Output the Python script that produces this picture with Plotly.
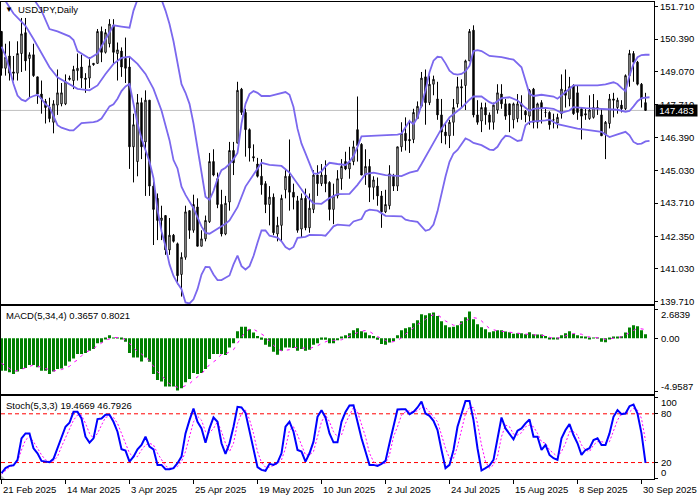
"""USDJPY daily chart with Bollinger bands, MACD and Stochastic panels."""
import plotly.graph_objects as go
from plotly.subplots import make_subplots

FONT = "Liberation Sans, sans-serif"
FONT_SIZE = 9.5

OPEN = [
    150.7, 149.2, 149.7, 149.05, 149.0, 149.8, 150.65, 149.6, 149.75, 148.85,
    148.15, 147.85, 147.6, 147.0, 147.7, 147.75, 147.75, 148.8, 148.7, 149.1,
    149.25, 148.8, 148.8, 149.4, 149.4, 150.7, 149.85, 150.2, 150.95, 149.8,
    149.9, 149.6, 149.25, 146.0, 145.4, 147.8, 146.2, 147.9, 144.4, 143.9,
    143.0, 143.2, 141.8, 142.4, 142.05, 140.8, 141.5, 143.4, 142.6, 143.55,
    141.95, 142.25, 142.95, 145.4, 144.7, 143.65, 142.45, 143.75, 145.85, 146.15,
    148.35, 147.4, 146.7, 145.6, 145.3, 144.8, 144.5, 143.65, 143.95, 142.45,
    142.8, 144.25, 144.8, 144.15, 143.8, 142.65, 143.9, 142.7, 143.45, 144.85,
    144.5, 144.85, 144.55, 143.45, 144.0, 144.7, 145.4, 145.1, 145.4, 146.7,
    146.1, 144.85, 145.2, 144.35, 144.4, 144.0, 143.35, 143.6, 144.8, 144.4,
    146.0, 146.55, 146.3, 146.3, 147.15, 147.65, 148.85, 147.8, 148.55, 147.95,
    147.3, 146.6, 146.45, 147.0, 147.75, 148.45, 148.5, 149.5, 150.75, 147.3,
    147.05, 147.6, 147.3, 147.0, 147.5, 148.15, 147.75, 147.75, 147.1, 147.15,
    147.75, 147.45, 147.25, 148.35, 147.0, 147.8, 147.4, 147.4, 147.1, 146.97,
    147.35, 148.3, 147.95, 148.5, 148.2, 147.55, 147.35, 147.15, 147.2, 147.6,
    147.3, 146.5, 146.95, 147.95, 147.6, 147.7, 147.55, 148.9, 149.8, 149.45,
    148.55, 147.8,
]
HIGH = [
    150.7, 150.2, 150.3, 149.7, 150.3, 151.25, 151.25, 149.85, 150.2, 148.85,
    148.7, 147.95, 148.0, 147.9, 149.15, 148.6, 148.95, 148.9, 149.3, 149.8,
    149.75, 149.0, 149.65, 149.4, 150.8, 150.9, 150.8, 151.2, 151.2, 150.25,
    150.05, 150.45, 149.65, 147.35, 148.15, 148.0, 148.3, 147.9, 144.6, 144.1,
    143.6, 143.2, 143.1, 142.45, 142.1, 141.7, 143.6, 143.4, 144.05, 143.9,
    142.6, 143.2, 145.75, 145.9, 144.95, 144.25, 144.0, 146.2, 146.2, 148.65,
    148.4, 147.55, 146.75, 146.1, 145.55, 145.5, 144.6, 144.4, 144.1, 143.15,
    144.05, 145.05, 146.3, 144.5, 144.0, 144.1, 144.3, 144.1, 145.05, 145.25,
    145.3, 145.45, 144.6, 144.5, 145.05, 145.5, 145.8, 146.0, 146.25, 148.05,
    146.15, 145.9, 145.5, 144.8, 144.75, 144.2, 144.25, 145.25, 144.9, 146.0,
    147.0, 147.2, 147.1, 147.55, 147.85, 149.05, 149.15, 148.9, 148.9, 148.65,
    147.95, 147.0, 147.1, 147.95, 148.85, 148.75, 149.55, 150.8, 150.95, 147.9,
    147.8, 147.8, 147.4, 147.8, 148.55, 148.55, 147.95, 147.75, 147.8, 148.15,
    148.1, 147.5, 148.35, 148.4, 147.8, 147.9, 147.6, 147.45, 147.35, 147.35,
    148.95, 149.15, 148.85, 148.55, 148.5, 147.6, 147.55, 148.1, 148.15, 147.9,
    147.55, 147.05, 148.15, 148.2, 148.0, 147.9, 148.95, 149.95, 149.9, 149.5,
    148.6, 148.2,
]
LOW = [
    148.9, 148.9, 148.7, 148.7, 148.7, 149.05, 149.1, 148.0, 148.85, 147.75,
    147.35, 146.95, 147.0, 146.55, 147.3, 147.65, 147.7, 148.7, 148.35, 148.7,
    148.4, 148.2, 148.4, 149.3, 149.4, 149.45, 149.8, 150.05, 149.4, 148.7,
    148.85, 148.6, 145.1, 144.55, 144.8, 145.5, 144.0, 144.0, 142.0, 142.2,
    142.2, 141.6, 141.6, 142.1, 140.4, 139.9, 141.4, 142.25, 142.5, 141.95,
    141.95, 142.15, 142.9, 144.8, 143.5, 142.35, 142.4, 143.4, 144.85, 146.15,
    147.3, 145.6, 145.4, 145.4, 144.75, 144.05, 143.3, 142.8, 142.4, 142.15,
    142.15, 143.9, 143.4, 143.45, 142.5, 142.3, 142.6, 142.5, 143.3, 144.0,
    144.4, 144.15, 143.0, 142.85, 143.9, 144.25, 145.05, 144.7, 145.25, 145.4,
    144.85, 144.45, 143.75, 143.85, 143.6, 142.7, 143.3, 143.45, 144.2, 144.2,
    145.8, 145.85, 145.75, 146.15, 147.15, 147.6, 146.9, 147.7, 148.1, 147.1,
    146.15, 146.1, 145.95, 146.45, 147.6, 147.6, 147.5, 149.5, 147.2, 146.9,
    146.6, 146.9, 146.7, 146.7, 147.35, 147.55, 147.1, 146.6, 146.75, 147.0,
    147.1, 147.0, 146.9, 146.75, 146.75, 146.95, 147.2, 146.7, 146.75, 146.75,
    147.15, 147.6, 147.65, 147.3, 147.1, 146.3, 147.1, 147.1, 147.15, 147.3,
    146.45, 145.5, 146.75, 147.2, 147.35, 147.4, 147.5, 148.45, 148.65, 148.5,
    147.6, 147.483,
]
CLOSE = [
    149.2, 149.65, 149.0, 149.0, 149.8, 150.6, 149.5, 149.75, 148.9, 148.15,
    147.95, 147.6, 147.15, 147.75, 148.2, 148.2, 148.65, 148.75, 149.15, 149.2,
    148.8, 148.75, 149.3, 149.35, 150.7, 149.85, 150.65, 151.0, 149.85, 149.95,
    149.25, 149.2, 146.0, 146.9, 147.8, 146.0, 147.9, 144.4, 143.45, 143.0,
    143.1, 141.8, 142.4, 142.15, 140.75, 141.5, 143.35, 142.6, 143.65, 141.95,
    142.25, 143.0, 145.4, 144.85, 143.65, 142.45, 143.7, 145.85, 145.35, 148.3,
    147.4, 146.7, 145.95, 145.55, 144.8, 144.45, 143.65, 143.95, 142.5, 142.8,
    143.9, 144.8, 144.15, 143.95, 142.6, 143.9, 142.7, 143.5, 144.85, 144.5,
    144.85, 144.5, 143.45, 144.0, 144.7, 145.2, 145.1, 145.35, 146.0, 146.05,
    144.85, 145.2, 144.35, 144.65, 144.0, 143.35, 143.65, 144.9, 144.4, 146.0,
    146.55, 146.25, 146.25, 147.4, 147.65, 148.8, 147.8, 148.55, 148.75, 147.3,
    146.6, 146.45, 147.0, 147.6, 148.45, 148.4, 149.5, 150.7, 147.3, 147.0,
    147.6, 147.3, 147.0, 147.7, 148.2, 147.75, 147.25, 147.3, 147.75, 147.75,
    147.65, 147.3, 148.3, 147.0, 147.75, 147.55, 147.4, 146.9, 147.1, 147.2,
    148.35, 148.1, 148.45, 147.35, 147.4, 147.25, 147.3, 147.5, 147.6, 147.6,
    146.45, 147.0, 147.95, 147.9, 147.9, 147.55, 148.9, 149.8, 149.45, 148.55,
    147.95, 147.483,
]

# Bollinger bands: (bar number, price) read where the line bends
BB_UPPER = [
    (4, 153.0), (8, 152.0), (10, 151.55), (12, 150.8), (14, 150.7), (17, 150.5), (18, 150.35),
    (19, 149.9), (20, 149.8), (22, 149.6), (24, 149.8), (26, 150.4), (28, 150.95), (30, 150.9),
    (32, 150.85), (33, 151.55), (34, 152.0), (37, 152.35), (40, 152.0), (41, 151.55), (42, 151.0),
    (43, 150.3), (44, 149.5), (45, 148.55), (46, 148.2), (47, 147.75), (48, 146.95), (49, 146.0),
    (50, 144.9), (51, 143.97), (52, 143.84), (53, 144.2), (54, 144.7), (55, 145.05), (56, 145.15),
    (57, 145.3), (58, 145.5), (59, 145.75), (60, 146.95), (61, 147.75), (62, 148.15), (63, 148.27),
    (64, 148.2), (65, 148.07), (67, 148.07), (70, 148.2), (71, 148.23), (72, 148.12), (73, 147.62),
    (74, 146.74), (75, 146.13), (76, 145.73), (77, 145.33), (78, 144.92), (79, 144.9), (80, 145.0),
    (81, 145.2), (82, 145.35), (84, 145.3), (86, 145.26), (87, 145.4), (88, 145.62), (89, 146.0),
    (90, 146.43), (95, 146.47), (99, 146.5), (100, 146.54), (102, 147.05), (103, 146.92),
    (104, 147.2), (105, 147.69), (106, 148.3), (107, 149.04), (108, 149.51), (109, 149.67),
    (110, 149.65), (111, 149.4), (112, 149.1), (113, 148.97), (114, 148.94), (115, 148.97),
    (116, 149.08), (117, 149.3), (118, 149.9), (119, 149.94), (120, 149.9), (122, 149.7),
    (125, 149.65), (128, 149.55), (130, 149.24), (132, 148.16), (133, 148.07), (135, 148.12),
    (138, 148.05), (139, 147.96), (141, 148.23), (143, 148.5), (149, 148.5), (151, 148.54),
    (153, 148.63), (154, 148.56), (155, 148.4), (156, 148.27), (157, 148.9), (158, 149.38),
    (159, 149.65), (160, 149.74), (161, 149.75), (162, 149.75),
]
BB_MIDDLE = [
    (0, 152.0), (1, 151.94), (3, 151.43), (6, 150.93), (8, 150.39), (10, 149.81), (12, 149.24),
    (14, 148.83), (17, 148.54), (19, 148.36), (22, 148.3), (24, 148.5), (26, 148.97), (28, 149.38),
    (30, 149.62), (32, 149.67), (34, 149.38), (36, 148.97), (38, 148.36), (40, 147.48), (42, 146.27),
    (43, 145.46), (44, 145.12), (45, 144.38), (46, 144.04), (48, 143.5), (50, 142.76), (51, 142.49),
    (52, 142.46), (54, 142.65), (56, 142.87), (57, 143.0), (59, 143.54), (61, 144.38), (63, 144.89),
    (65, 145.35), (67, 145.26), (70, 145.22), (72, 144.95), (74, 144.52), (76, 144.04), (78, 143.7),
    (80, 143.68), (82, 143.91), (84, 144.07), (87, 144.08), (89, 144.45), (91, 144.89), (93, 144.95),
    (96, 144.85), (100, 144.81), (102, 144.95), (104, 145.03), (105, 145.3), (107, 145.87),
    (108, 146.2), (110, 146.74), (112, 147.2), (113, 147.32), (115, 147.59), (117, 147.92),
    (118, 148.05), (120, 148.05), (122, 147.82), (123, 147.75), (125, 147.98), (127, 148.02),
    (129, 147.89), (131, 147.59), (132, 147.46), (133, 147.55), (136, 147.59), (138, 147.55),
    (140, 147.39), (142, 147.48), (143, 147.62), (146, 147.58), (150, 147.55), (154, 147.51),
    (156, 147.43), (157, 147.46), (158, 147.65), (159, 147.86), (160, 147.98), (162, 148.02),
]
BB_LOWER = [
    (0, 150.08), (1, 149.71), (2, 149.17), (3, 148.56), (4, 148.09), (5, 147.92), (6, 147.86),
    (7, 148.0), (8, 148.07), (9, 148.12), (10, 147.96), (11, 147.73), (12, 147.62), (13, 147.28),
    (14, 146.88), (15, 146.78), (17, 146.67), (18, 146.67), (19, 146.84), (20, 146.97), (23, 147.01),
    (24, 147.05), (25, 147.15), (26, 147.42), (27, 147.65), (28, 147.73), (29, 147.96), (30, 148.27),
    (31, 148.46), (32, 148.56), (33, 147.75), (34, 146.95), (35, 146.34), (36, 145.86), (37, 145.39),
    (38, 144.72), (39, 143.43), (40, 142.56), (41, 141.95), (42, 141.21), (43, 140.74), (44, 140.44),
    (45, 140.2), (46, 139.66), (47, 139.62), (48, 139.79), (49, 140.2), (50, 140.8), (51, 141.11),
    (52, 141.1), (53, 140.8), (54, 140.57), (55, 140.57), (56, 140.67), (57, 140.76), (58, 141.21),
    (59, 141.57), (60, 141.14), (61, 141.0), (62, 141.14), (63, 141.55), (64, 142.09), (65, 142.59),
    (66, 142.59), (67, 142.38), (69, 142.3), (70, 142.15), (71, 141.92), (72, 141.82), (73, 141.92),
    (74, 142.29), (76, 142.33), (77, 142.41), (80, 142.4), (81, 142.38), (82, 142.56), (83, 142.76),
    (84, 142.83), (87, 142.79), (88, 142.96), (90, 143.06), (91, 143.37), (92, 143.44), (94, 143.4),
    (96, 143.19), (100, 143.17), (101, 143.03), (102, 142.99), (104, 142.94), (105, 142.76),
    (106, 142.58), (107, 142.63), (108, 142.83), (109, 143.37), (110, 144.11), (111, 144.79),
    (112, 145.39), (113, 145.73), (114, 145.87), (115, 146.13), (116, 146.34), (117, 146.27),
    (118, 146.16), (120, 146.07), (122, 145.89), (123, 145.87), (124, 146.0), (125, 146.27),
    (126, 146.45), (127, 146.43), (128, 146.34), (129, 146.24), (130, 146.27), (131, 146.88),
    (132, 147.01), (133, 147.04), (136, 147.08), (137, 147.11), (139, 146.92), (141, 146.84),
    (144, 146.74), (145, 146.72), (148, 146.67), (150, 146.61), (151, 146.5), (152, 146.4),
    (154, 146.51), (156, 146.61), (157, 146.47), (158, 146.2), (159, 146.11), (160, 146.13),
    (161, 146.22), (162, 146.24),
]

MACD_HIST = [
    -3.01, -3.01, -3.16, -3.31, -3.10, -2.86, -2.76, -2.48, -2.48, -2.70,
    -3.01, -3.01, -3.31, -3.10, -2.86, -2.80, -2.55, -2.15, -1.88, -1.47,
    -1.47, -1.38, -1.17, -1.01, -0.46, -0.40, -0.09, 0.28, 0.06, 0.06,
    -0.03, -0.34, -1.38, -1.78, -1.78, -2.15, -1.78, -2.18, -3.31, -3.87,
    -4.02, -4.48, -4.48, -4.48, -4.85, -4.63, -4.08, -3.78, -3.22, -3.31,
    -3.22, -2.86, -1.93, -1.47, -1.47, -1.47, -1.56, -0.86, -0.46, 0.64,
    1.07, 1.07, 0.83, 0.52, 0.21, -0.15, -0.62, -0.79, -1.26, -1.54,
    -1.17, -0.86, -0.86, -0.92, -1.17, -1.01, -1.17, -1.07, -0.62, -0.46,
    -0.15, -0.15, -0.46, -0.46, -0.19, 0.15, 0.28, 0.46, 0.73, 0.92,
    0.64, 0.52, 0.28, 0.21, -0.15, -0.55, -0.62, -0.40, -0.28, 0.28,
    0.73, 0.92, 1.01, 1.38, 1.66, 2.21, 2.12, 2.30, 2.37, 2.05,
    1.56, 1.20, 1.01, 1.07, 1.20, 1.56, 1.93, 2.48, 1.75, 1.29,
    1.01, 0.83, 0.55, 0.64, 0.73, 0.73, 0.62, 0.55, 0.40, 0.46,
    0.46, 0.37, 0.55, 0.37, 0.34, 0.34, 0.21, -0.03, -0.09, -0.09,
    0.28, 0.46, 0.64, 0.40, 0.28, 0.19, 0.09, -0.03, 0.03, 0.06,
    -0.34, -0.37, -0.09, 0.15, 0.15, 0.19, 0.52, 0.98, 1.20, 1.11,
    0.73, 0.3657,
]
MACD_SIGNAL = [
    (0, -2.33), (1, -2.55), (3, -3.10), (5, -2.91), (6, -2.76), (8, -2.48), (10, -2.70), (11, -2.86),
    (13, -3.04), (15, -2.91), (17, -2.61), (18, -2.24), (19, -2.03), (20, -1.63), (21, -1.32),
    (23, -0.96), (25, -0.49), (26, -0.19), (28, 0.06), (30, 0.06), (32, -0.46), (33, -0.92),
    (35, -1.47), (37, -2.09), (39, -3.10), (41, -3.87), (42, -4.23), (44, -4.55), (45, -4.57),
    (47, -4.23), (48, -3.87), (50, -3.31), (52, -2.46), (54, -1.93), (55, -1.47), (56, -1.47),
    (57, -1.26), (58, -1.07), (59, -0.46), (60, 0.13), (61, 0.62), (62, 0.83), (63, 0.83), (64, 0.62),
    (66, 0.15), (67, -0.30), (69, -1.01), (70, -1.17), (72, -1.07), (73, -0.86), (75, -0.92),
    (76, -0.98), (77, -0.96), (79, -0.71), (80, -0.49), (82, -0.19), (83, -0.21), (85, -0.15),
    (87, 0.21), (88, 0.37), (90, 0.64), (91, 0.71), (92, 0.62), (94, 0.15), (96, -0.21), (97, -0.40),
    (99, -0.24), (100, 0.06), (102, 0.68), (103, 0.92), (104, 1.26), (106, 1.75), (107, 2.05),
    (108, 2.15), (109, 2.18), (110, 1.90), (111, 1.60), (113, 1.20), (114, 1.20), (115, 1.38),
    (116, 1.60), (117, 1.81), (118, 1.90), (119, 1.84), (120, 1.60), (121, 1.22), (122, 0.89),
    (124, 0.68), (126, 0.58), (128, 0.49), (130, 0.43), (132, 0.34), (134, 0.28), (136, 0.24),
    (137, 0.09), (138, -0.03), (140, 0.06), (141, 0.21), (143, 0.43), (145, 0.37), (146, 0.15),
    (148, 0.06), (150, 0.0), (151, -0.13), (153, -0.03), (155, 0.13), (156, 0.30), (157, 0.52),
    (158, 0.77), (159, 0.92), (161, 0.8021),
]

STOCH_K = [
    6.9, 13.1, 15.9, 16.7, 23.3, 49.8, 55.9, 55.9, 37.6, 31.4,
    22.0, 21.2, 20.4, 24.5, 37.6, 51.8, 64.1, 69.0, 82.4, 82.4,
    74.3, 51.8, 44.5, 49.8, 73.5, 74.3, 78.8, 78.8, 70.2, 58.0,
    36.3, 34.7, 21.2, 27.3, 36.3, 41.6, 51.8, 39.6, 36.3, 17.1,
    17.1, 11.8, 11.8, 13.1, 19.2, 27.3, 55.9, 72.2, 86.5, 70.2,
    62.0, 44.5, 62.0, 75.5, 70.2, 43.7, 30.6, 43.7, 64.1, 88.6,
    87.8, 81.2, 58.0, 35.5, 14.3, 11.0, 9.8, 18.4, 17.1, 20.0,
    31.4, 64.1, 70.2, 58.0, 35.5, 33.5, 21.2, 31.4, 45.7, 76.3,
    84.5, 75.5, 55.9, 44.9, 44.9, 70.2, 82.4, 90.2, 90.6, 70.2,
    49.8, 33.5, 17.1, 17.1, 15.9, 18.4, 22.0, 43.7, 64.1, 85.3,
    85.7, 85.7, 79.6, 82.4, 87.8, 95.1, 80.4, 77.6, 71.4, 60.0,
    35.5, 13.1, 17.1, 35.5, 64.1, 80.4, 95.9, 95.9, 72.2, 37.6,
    10.2, 13.1, 16.3, 23.3, 51.8, 75.5, 62.0, 55.9, 48.6, 59.2,
    62.0, 68.2, 73.1, 51.8, 51.8, 35.5, 41.6, 29.4, 25.3, 23.3,
    49.8, 60.0, 67.3, 53.9, 43.7, 29.4, 35.5, 37.6, 47.8, 49.8,
    41.6, 41.6, 55.9, 76.3, 84.5, 79.6, 80.4, 89.4, 91.4, 80.4,
    55.9, 19.4669,
]
STOCH_D = [
    5.7, 10.2, 14.3, 17.1, 21.2, 35.5, 47.8, 51.8, 45.7, 37.6,
    29.4, 23.3, 21.2, 22.0, 27.3, 39.6, 49.8, 62.0, 72.2, 78.4,
    78.4, 68.2, 55.9, 49.8, 55.9, 66.1, 75.5, 77.1, 75.5, 68.2,
    55.1, 43.7, 31.4, 27.3, 27.3, 35.5, 41.6, 43.7, 41.6, 31.4,
    23.3, 15.9, 13.1, 13.1, 15.1, 21.2, 33.5, 51.8, 70.2, 77.1,
    72.2, 58.0, 56.7, 62.0, 70.2, 58.0, 43.7, 33.5, 43.7, 68.2,
    80.4, 84.5, 73.1, 55.9, 33.5, 20.0, 14.3, 14.3, 15.9, 18.4,
    23.3, 37.6, 60.0, 64.1, 53.9, 41.6, 29.4, 29.4, 33.5, 51.8,
    70.2, 78.4, 70.2, 58.0, 51.8, 53.9, 68.2, 78.4, 87.8, 82.4,
    68.2, 51.8, 31.4, 21.2, 17.1, 18.0, 19.2, 29.4, 51.8, 64.1,
    78.4, 82.4, 83.7, 82.4, 83.7, 87.8, 87.8, 82.4, 76.3, 70.2,
    53.9, 37.6, 25.3, 25.3, 39.6, 60.0, 80.4, 87.8, 87.8, 68.2,
    41.6, 21.2, 13.1, 17.1, 27.3, 51.8, 66.1, 64.1, 55.1, 53.9,
    56.7, 64.1, 66.1, 64.1, 55.9, 45.7, 43.7, 35.5, 31.4, 27.3,
    33.5, 43.7, 58.0, 58.0, 53.9, 41.6, 35.5, 33.5, 41.6, 45.7,
    45.7, 44.5, 45.7, 58.0, 72.2, 80.4, 81.2, 82.4, 86.5, 84.5,
    74.3, 46.7926,
]

PRICE_TICKS = [151.71, 150.39, 149.07, 147.71, 146.39, 145.03, 143.71, 142.35, 141.03, 139.71]
PRICE_LABELS = ["151.710", "150.390", "149.070", "147.710", "146.390",
                "145.030", "143.710", "142.350", "141.030", "139.710"]
LAST_PRICE = 147.483
STOCH_LEVELS = [80, 20]
DATE_BARS = [0, 16, 32, 48, 64, 80, 96, 112, 128, 144, 160]
DATE_LABELS = ["21 Feb 2025", "14 Mar 2025", "3 Apr 2025", "25 Apr 2025", "19 May 2025", "10 Jun 2025",
               "2 Jul 2025", "24 Jul 2025", "15 Aug 2025", "8 Sep 2025", "30 Sep 2025"]

# value, label, vertical nudge (the platform pulls the outer labels inside the panel)
MACD_LABELS = [(2.6839, "2.6839", -5), (0.0, "0.00", 0), (-4.9587, "-4.9587", 5)]
STOCH_LABELS = [(100, "100", -5), (80, "80", 0), (20, "20", 0), (0, "0", 6)]

W, H = 700, 500
BARS = list(range(len(CLOSE)))
assert all(len(s) == 162 for s in (OPEN, HIGH, LOW, CLOSE, MACD_HIST, STOCH_K, STOCH_D))


def py(pixel):
    return 1 - pixel / H


fig = make_subplots(rows=3, cols=1, shared_xaxes=True)

fig.add_trace(
    go.Candlestick(
        x=BARS, open=OPEN, high=HIGH, low=LOW, close=CLOSE, whiskerwidth=0,
        increasing=dict(line=dict(color="#000000", width=1), fillcolor="#ffffff"),
        decreasing=dict(line=dict(color="#000000", width=1), fillcolor="#000000"),
    ),
    row=1, col=1,
)
fig.add_hline(y=LAST_PRICE, line=dict(color="#c0c0c0", width=1), layer="below", row=1, col=1)
for band in (BB_UPPER, BB_MIDDLE, BB_LOWER):
    xs, ys = zip(*band)
    fig.add_trace(go.Scatter(x=xs, y=ys, mode="lines", line=dict(color="#7b68ee", width=1.8)), row=1, col=1)

fig.add_trace(go.Bar(x=BARS, y=MACD_HIST, marker=dict(color="#008000", line_width=0)), row=2, col=1)
xs, ys = zip(*MACD_SIGNAL)
fig.add_trace(
    go.Scatter(x=xs, y=ys, mode="lines", line=dict(color="#ff00ff", width=1, dash="3px,5px")),
    row=2, col=1,
)

fig.add_trace(
    go.Scatter(x=BARS, y=STOCH_D, mode="lines", line=dict(color="#ff00ff", width=1, dash="2px,2px")),
    row=3, col=1,
)
fig.add_trace(go.Scatter(x=BARS, y=STOCH_K, mode="lines", line=dict(color="#0000ff", width=2)), row=3, col=1)
# hlines get dropped on a subplot that has no traces yet, so these come after the traces
for level in STOCH_LEVELS:
    fig.add_hline(y=level, line=dict(color="#ff0000", width=1, dash="4px,3px"), layer="below", row=3, col=1)

axis_style = dict(showgrid=False, zeroline=False, showline=True, mirror=True, linecolor="#000000", linewidth=1)
# half a bar pixel of offset keeps the 4px-wide bars on whole pixels
x_range = [-0.125, 163.125]
fig.update_xaxes(
    range=x_range, domain=[1 / W, 654 / W], showticklabels=False, rangeslider_visible=False, **axis_style,
)
fig.update_xaxes(
    tickmode="array", tickvals=DATE_BARS, ticks="outside", ticklen=4, tickcolor="#000000", row=3, col=1,
)
fig.update_yaxes(side="right", ticks="outside", ticklen=3, tickcolor="#000000", **axis_style)
fig.update_yaxes(
    range=[139.59, 151.90], domain=[py(305), py(1)], tickmode="array", tickvals=PRICE_TICKS,
    ticktext=PRICE_LABELS, tickfont=dict(family=FONT, size=FONT_SIZE, color="#000000"), row=1, col=1,
)
fig.update_yaxes(
    range=[-5.14, 2.94], domain=[py(395), py(307.3)], tickmode="array",
    tickvals=[v for v, _, _ in MACD_LABELS], showticklabels=False, row=2, col=1,
)
fig.update_yaxes(
    range=[-0.4, 102.4], domain=[py(481), py(397)], tickmode="array",
    tickvals=[v for v, _, _ in STOCH_LABELS], showticklabels=False, row=3, col=1,
)

text_font = dict(family=FONT, size=FONT_SIZE, color="#000000")
for yref, labels in (("y2", MACD_LABELS), ("y3", STOCH_LABELS)):
    for value, label, nudge in labels:
        fig.add_annotation(
            xref="paper", x=659 / W, yref=yref, y=value, yshift=nudge, text=label, showarrow=False,
            xanchor="left", yanchor="middle", font=text_font,
        )
for bar, label in zip(DATE_BARS, DATE_LABELS):
    fig.add_annotation(
        xref="x3", x=bar, yref="paper", y=py(491), text=label, showarrow=False,
        xanchor="left", yanchor="middle", xshift=-1, font=text_font,
    )
fig.add_annotation(
    xref="paper", x=655 / W, yref="y", y=LAST_PRICE, text=f"{LAST_PRICE:.3f}", showarrow=False, xanchor="left",
    yanchor="middle", width=41, height=11, bgcolor="#000000", borderpad=0,
    font=dict(family=FONT, size=FONT_SIZE, color="#ffffff"),
)
for px, pix, text, size in (
    (3, 9, "▼", 8),
    (16, 9, "USDJPY,Daily", FONT_SIZE),
    (4, 316, "MACD(5,34,4) 0.3657 0.8021", FONT_SIZE),
    (4, 407, "Stoch(5,3,3) 19.4669 46.7926", FONT_SIZE),
):
    fig.add_annotation(
        xref="paper", x=px / W, yref="paper", y=py(pix), text=text, showarrow=False, xanchor="left",
        yanchor="middle", font=dict(family=FONT, size=size, color="#000000"),
    )

# small grey chart-shift marker in the bottom-left corner
fig.add_shape(
    type="path", xref="paper", yref="paper", line_width=0, fillcolor="#c0c0c0",
    path=f"M {1 / W} {py(477)} L {1 / W} {py(481)} L {5 / W} {py(481)} Z",
)

fig.update_layout(
    width=W, height=H, margin=dict(l=0, r=0, t=0, b=0), autosize=False,
    paper_bgcolor="#ffffff", plot_bgcolor="#ffffff", showlegend=False,
    bargap=0.25, boxgap=0.5, hovermode=False,
)
fig.write_html("out.html", config={"displayModeBar": False}, post_script="document.body.style.margin='0';")
